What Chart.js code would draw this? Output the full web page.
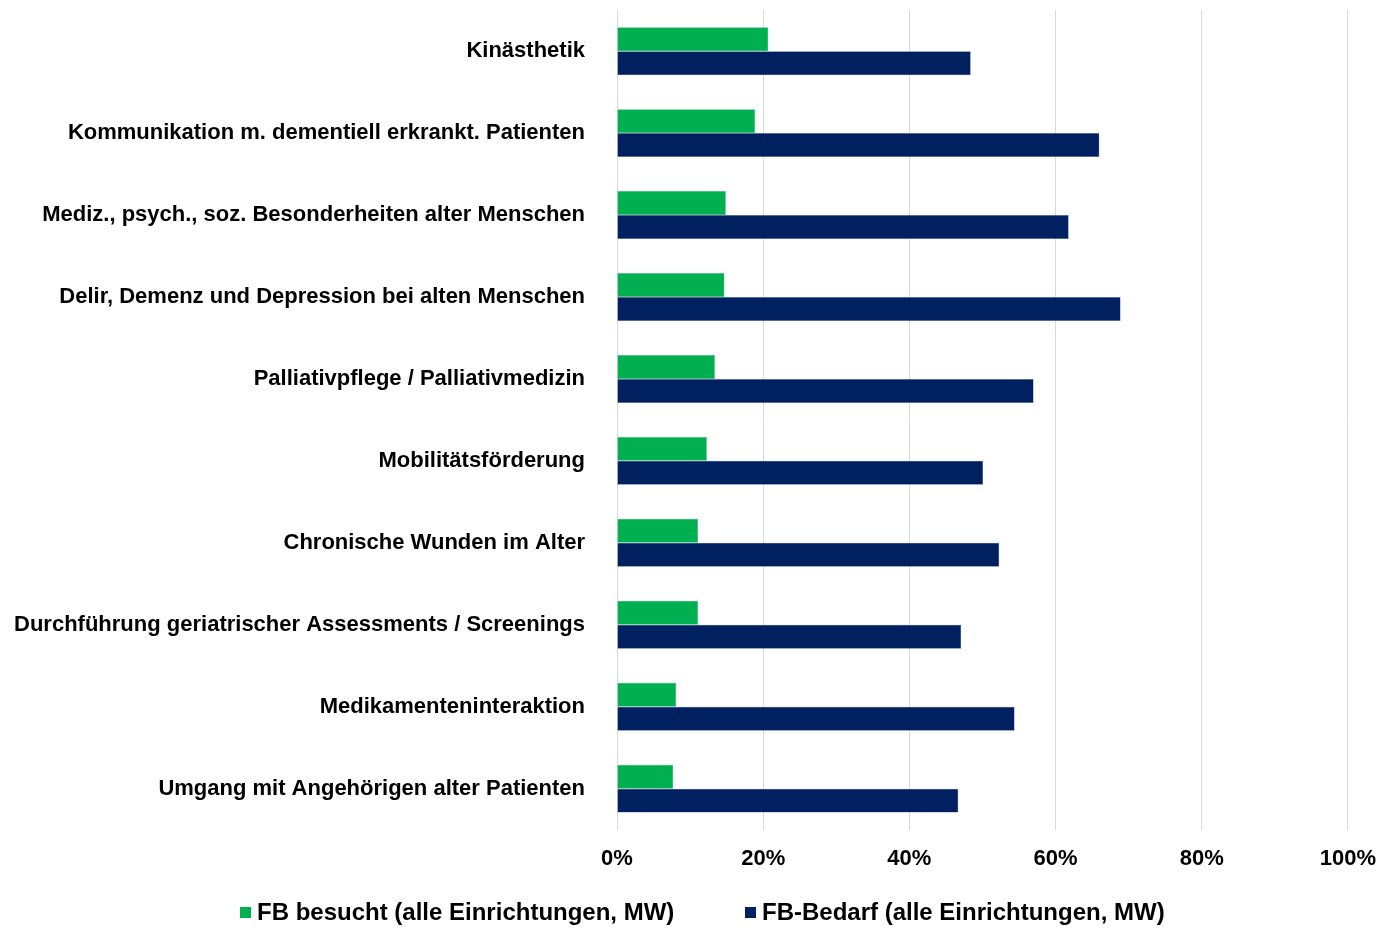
<!DOCTYPE html>
<html>
<head>
<meta charset="utf-8">
<script src="https://cdn.jsdelivr.net/npm/chart.js@4.4.0/dist/chart.umd.min.js"></script>
<style>
  html, body { margin: 0; padding: 0; background: #fff; overflow: hidden; }
  #wrap { width: 1378px; height: 929px; position: relative; overflow: hidden; }
  #chart { position: absolute; left: 0; top: -27px; }
  #legend {
    position: absolute; left: 0; top: 897px; width: 1378px; height: 30px;
    font-family: 'Liberation Sans', Arial, sans-serif; font-weight: bold; font-size: 24px;
    color: #000; line-height: 30px; white-space: nowrap;
  }
  .item { position: absolute; top: 0; }
  .box { display: inline-block; width: 11px; height: 11px; margin-right: 6px; vertical-align: 2px; }
</style>
</head>
<body>
<div id="wrap">
  <canvas id="chart" width="1392" height="964"></canvas>
  <div id="legend"></div>
</div>
<script>
// Kategorien (von oben nach unten)
const categories = [
    "Kinästhetik",
    "Kommunikation m. dementiell erkrankt. Patienten",
    "Mediz., psych., soz. Besonderheiten alter Menschen",
    "Delir, Demenz und Depression bei alten Menschen",
    "Palliativpflege / Palliativmedizin",
    "Mobilitätsförderung",
    "Chronische Wunden im Alter",
    "Durchführung geriatrischer Assessments / Screenings",
    "Medikamenteninteraktion",
    "Umgang mit Angehörigen alter Patienten"
];

// Anteile (0..1)
const fbBesucht = [0.207, 0.189, 0.149, 0.147, 0.134, 0.123, 0.111, 0.111, 0.081, 0.077];
const fbBedarf = [0.484, 0.660, 0.618, 0.689, 0.570, 0.501, 0.523, 0.471, 0.544, 0.467];

const seriesNames = ["FB besucht (alle Einrichtungen, MW)", "FB-Bedarf (alle Einrichtungen, MW)"];
const seriesColors = ["#00B050", "#002060"];
const xTicks = [0, 0.2, 0.4, 0.6, 0.8, 1.0];

const fontFamily = "'Liberation Sans', Arial, sans-serif";

const ctx = document.getElementById("chart").getContext("2d");

const chart = new Chart(ctx, {
    type: "bar",
    data: {
        labels: categories,
        datasets: [
            {
                label: seriesNames[0],
                data: fbBesucht,
                backgroundColor: seriesColors[0],
                borderColor: "#3fc07a",
                borderWidth: 0.5,
                categoryPercentage: 0.585,
                barPercentage: 1.0
            },
            {
                label: seriesNames[1],
                data: fbBedarf,
                backgroundColor: seriesColors[1],
                borderColor: "#5a6f9c",
                borderWidth: 0.5,
                categoryPercentage: 0.585,
                barPercentage: 1.0
            }
        ]
    },
    options: {
        indexAxis: "y",
        responsive: false,
        animation: false,
        layout: {
            padding: { left: 0, right: 17, top: 10, bottom: 49 }
        },
        scales: {
            x: {
                min: 0,
                max: 1,
                afterBuildTicks: function (scale) {
                    scale.ticks = xTicks.map(v => ({ value: v }));
                },
                ticks: {
                    callback: v => Math.round(v * 100) + "%",
                    color: "#000",
                    font: { family: fontFamily, size: 22, weight: "bold" },
                    padding: 16,
                    maxRotation: 0
                },
                grid: { color: "#d9d9d9", lineWidth: 1, drawTicks: false },
                border: { display: false }
            },
            y: {
                afterFit: function (scale) {
                    scale.width = 617;
                },
                ticks: {
                    color: "#000",
                    font: { family: fontFamily, size: 22, weight: "bold" },
                    padding: 24
                },
                grid: { display: false },
                border: { display: false }
            }
        },
        plugins: {
            legend: { display: false },
            tooltip: { enabled: false }
        }
    }
});

// Legende unten
const legendEl = document.getElementById("legend");
const legendX = [240, 745];
chart.data.datasets.forEach((ds, i) => {
    const item = document.createElement("div");
    item.className = "item";
    item.style.left = legendX[i] + "px";
    item.innerHTML = `<span class="box" style="background:${seriesColors[i]}"></span>${ds.label}`;
    legendEl.appendChild(item);
});
</script>
</body>
</html>
